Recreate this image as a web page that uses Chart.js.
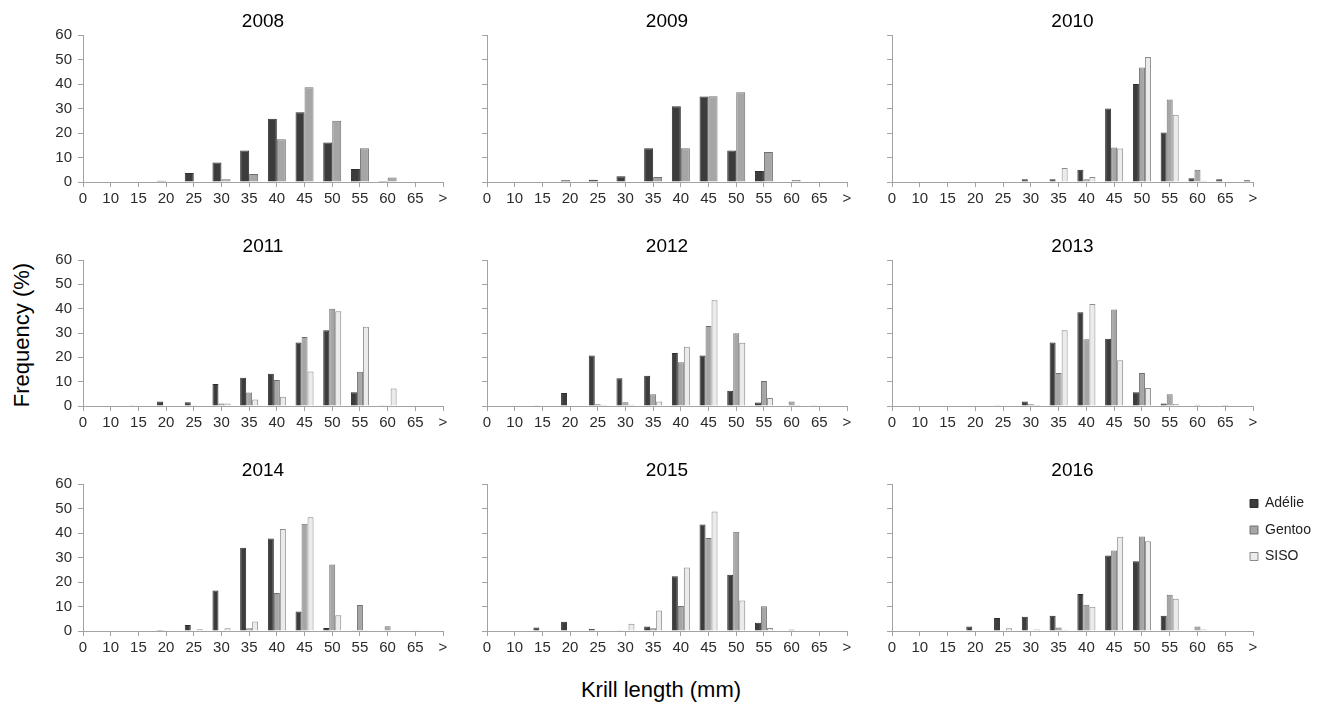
<!DOCTYPE html>
<html><head><meta charset="utf-8">
<script src="https://cdn.jsdelivr.net/npm/chart.js@4.4.1/dist/chart.umd.min.js"></script>
<style>
html,body{margin:0;padding:0;background:#fff;width:1322px;height:706px;overflow:hidden;position:relative;font-family:'Liberation Sans',Arial,sans-serif;}
canvas{position:absolute;}
.axt{position:absolute;font-size:22px;color:#000;white-space:nowrap;line-height:1;}
#ylab{left:22px;top:335px;transform:translate(-50%,-50%) rotate(-90deg);}
#xlab{left:661px;top:690px;transform:translate(-50%,-50%);}
</style></head><body>
<div id="ylab" class="axt">Frequency (%)</div>
<div id="xlab" class="axt">Krill length (mm)</div>
<script>
// ---------- data ----------
const categories = ['0','10','15','20','25','30','35','40','45','50','55','60','65','>'];
const yTickValues = [0,10,20,30,40,50,60];
const seriesNames = ['Adélie','Gentoo','SISO'];
const years = ['2008','2009','2010','2011','2012','2013','2014','2015','2016'];

const adelie2008 = [0,0,0.2,0.5,3.7,8.0,12.9,25.8,28.5,16.1,5.3,0.4,0,0];
const gentoo2008 = [0,0,0,0,0,1.1,3.3,17.4,38.7,25.0,13.8,1.8,0,0];

const adelie2009 = [0,0,0,0.7,0.9,2.3,13.8,30.9,34.9,12.9,4.5,0,0,0];
const gentoo2009 = [0,0,0,0,0,0,2.0,13.8,35.0,36.6,12.2,0.8,0,0];

const adelie2010 = [0,0,0,0,0,1.1,1.1,5.0,30.0,40.0,20.2,1.5,1.1,0.7];
const gentoo2010 = [0,0,0,0,0,0,0,1.1,14.1,46.7,33.7,5.0,0,0];
const siso2010   = [0,0,0,0,0,0,5.7,2.0,13.7,51.0,27.5,0.5,0,0];

const adelie2011 = [0,0,0.3,1.8,1.5,9.0,11.6,13.3,26.1,31.1,5.7,0.3,0,0];
const gentoo2011 = [0,0,0,0,0.3,1.0,5.5,10.7,28.4,40.0,14.1,0.3,0,0];
const siso2011   = [0,0,0,0,0,1.0,2.7,3.8,14.2,38.9,32.6,7.2,0,0];

const adelie2012 = [0,0,0.3,5.3,20.8,11.4,12.4,21.8,20.8,6.3,1.4,0,0.3,0];
const gentoo2012 = [0,0,0,0,0.7,1.5,4.8,18.0,32.9,29.9,10.3,1.9,0,0];
const siso2012   = [0,0,0,0,0.4,0.5,1.9,24.4,43.5,26.0,3.3,0.4,0,0];

const adelie2013 = [0,0,0,0,0.1,1.8,26.1,38.5,27.6,5.6,1.0,0,0,0];
const gentoo2013 = [0,0,0,0,0,0.7,13.6,27.4,39.7,13.6,4.8,0.5,0.4,0];
const siso2013   = [0,0,0,0,0,0.4,31.1,41.9,18.8,7.4,0.8,0,0,0];

const adelie2014 = [0,0,0,0.4,2.4,16.5,34.0,37.8,8.0,1.2,0.1,0,0,0];
const gentoo2014 = [0,0,0,0.3,0,0,1.1,15.5,43.8,27.1,10.6,1.9,0.3,0];
const siso2014   = [0,0,0,0,0.7,1.1,3.9,41.6,46.4,6.4,0.3,0,0,0];

const adelie2015 = [0,0,1.4,3.8,0.8,0.3,1.8,22.3,43.5,23.0,3.4,0.2,0,0];
const gentoo2015 = [0,0,0,0,0.2,0,1.1,10.2,38.0,40.5,10.1,0.6,0,0];
const siso2015   = [0,0,0,0,0,3.0,8.4,25.9,48.8,12.4,1.2,0,0,0];

const adelie2016 = [0,0,0,1.8,5.3,5.8,6.2,15.1,30.8,28.5,6.2,0.2,0.2,0];
const gentoo2016 = [0,0,0,0,0,0.2,1.4,10.7,32.9,38.6,14.8,1.8,0,0];
const siso2016   = [0,0,0,0,1.1,0.6,0.4,9.9,38.5,36.6,13.2,0.6,0,0];

const panelSeries = {
  '2008': [adelie2008, gentoo2008],
  '2009': [adelie2009, gentoo2009],
  '2010': [adelie2010, gentoo2010, siso2010],
  '2011': [adelie2011, gentoo2011, siso2011],
  '2012': [adelie2012, gentoo2012, siso2012],
  '2013': [adelie2013, gentoo2013, siso2013],
  '2014': [adelie2014, gentoo2014, siso2014],
  '2015': [adelie2015, gentoo2015, siso2015],
  '2016': [adelie2016, gentoo2016, siso2016]
};

// ---------- styles / layout ----------
const FONT = "'Liberation Sans', Arial, sans-serif";
const fills = ['#3c3c3c','#a6a6a6','#ebebeb'];
const borders = ['#2e2e2e','#707070','#8a8a8a'];
const AXIS = '#a3a3a3';
const TICK_TXT = '#2b2b2b';
const COL_LEFT = [83, 487, 892];
const COL_W = [360, 360, 361];
const ROW_TOP = [35, 260, 484];
const ROW_H = [147, 146, 147];
const Y_W = 50, X_H = 32, TITLE_H = 25;
const LEGEND_BOX_X = 1250;

const legendNudge = {
  id: 'legendNudge',
  afterLayout(chart, args, opts) {
    const lg = chart.legend;
    if (!lg || opts.x == null || !lg.options.display) return;
    const w = lg.width, h = lg.height;
    lg.left = opts.x - lg.options.labels.padding;
    lg.right = lg.left + w;
    lg.top = chart.chartArea.top;
    lg.bottom = lg.top + h;
  }
};

years.forEach((year, i) => {
  const col = i % 3, row = Math.floor(i / 3);
  const axisLeft = COL_LEFT[col], plotW = COL_W[col];
  const plotTop = ROW_TOP[row], plotH = ROW_H[row];
  const isLegend = (year === '2016');
  const left = axisLeft - Y_W;
  const top = plotTop - TITLE_H;
  const padRight = isLegend ? (1322 - left - Y_W - plotW) : 12;
  const width = Y_W + plotW + padRight;
  const height = TITLE_H + plotH + X_H;
  const cv = document.createElement('canvas');
  cv.width = width; cv.height = height;
  cv.style.left = left + 'px'; cv.style.top = top + 'px';
  cv.style.width = width + 'px'; cv.style.height = height + 'px';
  document.body.appendChild(cv);

  const datasets = panelSeries[year].map((d, k) => ({
    label: seriesNames[k],
    data: d,
    backgroundColor: fills[k],
    borderColor: borders[k],
    borderWidth: 1,
    barPercentage: 1,
    categoryPercentage: 0.65
  }));

  new Chart(cv, {
    type: 'bar',
    data: { labels: categories, datasets },
    plugins: [legendNudge],
    options: {
      responsive: false,
      animation: false,
      devicePixelRatio: 1,
      layout: { padding: { left: 0, right: padRight, top: 0, bottom: 0 } },
      plugins: {
        title: { display: true, text: year, color: '#000', fullSize: false,
                 font: { family: FONT, size: 19, weight: 'normal' },
                 padding: { top: 0, bottom: 2.2 } },
        legend: isLegend ? {
          display: true, position: 'chartArea', align: 'start',
          labels: { boxWidth: 8, boxHeight: 8, padding: 12.5, color: '#222',
                    font: { family: FONT, size: 14 } }
        } : { display: false },
        legendNudge: isLegend ? { x: LEGEND_BOX_X - left } : {},
        tooltip: { enabled: false }
      },
      scales: {
        x: {
          type: 'category', offset: false,
          grid: { offset: false, display: true, drawOnChartArea: false, drawTicks: true, tickLength: 5, color: AXIS },
          border: { display: true, color: AXIS },
          ticks: { autoSkip: false, maxRotation: 0, minRotation: 0, padding: 3, color: TICK_TXT,
                   font: { family: FONT, size: 15 } },
          afterFit: s => { s.height = X_H; }
        },
        y: {
          min: yTickValues[0], max: yTickValues[yTickValues.length - 1],
          grid: { display: true, drawOnChartArea: false, drawTicks: true, tickLength: 5, color: AXIS },
          border: { display: true, color: AXIS },
          ticks: { stepSize: yTickValues[1] - yTickValues[0], display: col === 0, padding: 6, color: TICK_TXT,
                   font: { family: FONT, size: 15 } },
          afterFit: s => { s.width = Y_W; }
        }
      }
    }
  });
});
</script>
</body></html>
